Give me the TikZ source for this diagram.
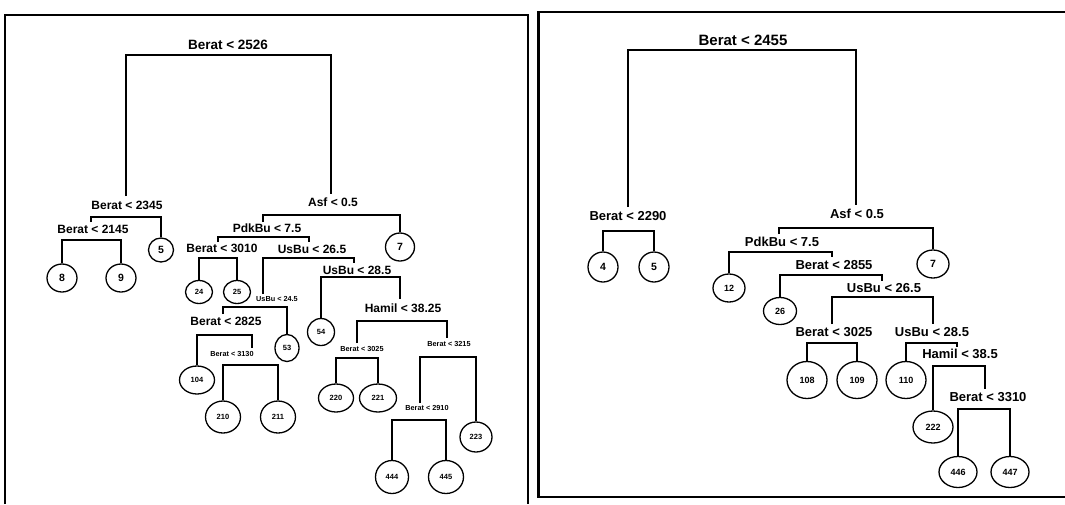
\documentclass[tikz,border=0pt]{standalone}
\usepackage{fontspec}
\setmainfont{Liberation Sans}
\usetikzlibrary{shapes.geometric}
\begin{document}
\begin{tikzpicture}[x=1pt,y=-1pt,
  lbl/.style={inner sep=0pt, font=\bfseries\fontsize{12}{14}\selectfont},
  lblbig/.style={inner sep=0pt, font=\bfseries\fontsize{13.5}{15}\selectfont},
  lblr/.style={inner sep=0pt, font=\bfseries\fontsize{13}{15}\selectfont},
  lblrbig/.style={inner sep=0pt, font=\bfseries\fontsize{15}{17}\selectfont},
  lbls/.style={inner sep=0pt, font=\bfseries\fontsize{7.3}{8}\selectfont},
  leaf/.style 2 args={draw, ellipse, line width=1.3pt, inner sep=0pt,
     minimum width=#1 pt, minimum height=#2 pt, font=\bfseries\fontsize{7.5}{8}\selectfont},
  big/.style={font=\bfseries\fontsize{10.5}{11}\selectfont},
  mid/.style={font=\bfseries\fontsize{9}{10}\selectfont},
  edge/.style={line width=1.2pt},
  frame/.style={line width=2.5pt}]
\useasboundingbox (0,0) rectangle (1065,504);
% frames
\coordinate (fa) at (5,504);
\coordinate (fb) at (5,15);
\coordinate (fc) at (528,15);
\coordinate (fd) at (528,504);
\draw[frame] (fa) -- (fb) -- (fc) -- (fd);
\coordinate (ga) at (1065,12);
\coordinate (gb) at (538.5,12);
\coordinate (gc) at (538.5,497);
\coordinate (gd) at (1065,497);
\draw[frame] (ga) -- (gb) -- (gc) -- (gd);

% ================= LEFT TREE =================
\node[lblbig] (L1) at (228,45) {Berat < 2526};
\coordinate (b1) at (228,55);
\coordinate (t2) at (126,196);
\coordinate (t3) at (331,194);
\draw[edge] (t2) |- (b1) -| (t3);

\node[lbl] (L2) at (127,205) {Berat < 2345};
\coordinate (b2) at (127,217);
\coordinate (t4) at (91,222);
\node[leaf={25}{24}, big] (l5) at (161,250) {5};
\draw[edge] (t4) |- (b2) -| (l5.north);

\node[lbl] (L4) at (93,229) {Berat < 2145};
\coordinate (b4) at (93,240);
\node[leaf={30}{28}, big] (l8) at (62,278) {8};
\node[leaf={30}{28}, big] (l9) at (121,278) {9};
\draw[edge] (l8.north) |- (b4) -| (l9.north);

\node[lbl] (L3) at (333,202) {Asf < 0.5};
\coordinate (b3) at (333,215);
\coordinate (t6) at (263,222);
\node[leaf={29}{28}, big] (l7) at (400,247) {7};
\draw[edge] (t6) |- (b3) -| (l7.north);

\node[lbl] (L6) at (267,228) {PdkBu < 7.5};
\coordinate (b6) at (267,237);
\coordinate (t12) at (218,242);
\coordinate (t13) at (309,242);
\draw[edge] (t12) |- (b6) -| (t13);

\node[lbl] (L12) at (222,248) {Berat < 3010};
\coordinate (b12) at (222,258);
\node[leaf={27}{23}] (l24) at (199,292) {24};
\node[leaf={27}{23}] (l25) at (237,292) {25};
\draw[edge] (l24.north) |- (b12) -| (l25.north);

\node[lbl] (L13) at (312,249) {UsBu < 26.5};
\coordinate (b13) at (312,258);
\coordinate (t26) at (263,294);
\coordinate (t27) at (354,263);
\draw[edge] (t26) |- (b13) -| (t27);

\node[lbls] (L26) at (277,299) {UsBu < 24.5};
\coordinate (b26) at (255,307);
\coordinate (t52) at (223,314);
\node[leaf={24}{27}] (l53) at (287,348) {53};
\draw[edge] (t52) |- (b26) -| (l53.north);

\node[lbl] (L52) at (226,321) {Berat < 2825};
\coordinate (b52) at (226,335);
\node[leaf={35}{28}] (l104) at (197,380) {104};
\coordinate (t105) at (252,348);
\draw[edge] (l104.north) |- (b52) -| (t105);

\node[lbls] (L105) at (232,354) {Berat < 3130};
\coordinate (b105) at (250,365);
\node[leaf={35}{32}] (l210) at (223,417) {210};
\node[leaf={35}{32}] (l211) at (278,417) {211};
\draw[edge] (l210.north) |- (b105) -| (l211.north);

\node[lbl] (L27) at (357,270) {UsBu < 28.5};
\coordinate (b27) at (360,277);
\node[leaf={27}{27}] (l54) at (321,332) {54};
\coordinate (t55) at (400,299);
\draw[edge] (l54.north) |- (b27) -| (t55);

\node[lbl] (L55) at (403,308) {Hamil < 38.25};
\coordinate (b55) at (403,321);
\coordinate (t110) at (357,343);
\coordinate (t111) at (447,338);
\draw[edge] (t110) |- (b55) -| (t111);

\node[lbls] (L110) at (362,349) {Berat < 3025};
\coordinate (b110) at (357,358);
\node[leaf={35}{28}] (l220) at (336,398) {220};
\node[leaf={37}{28}] (l221) at (378,398) {221};
\draw[edge] (l220.north) |- (b110) -| (l221.north);

\node[lbls] (L111) at (449,344) {Berat < 3215};
\coordinate (b111) at (447,357);
\coordinate (t222) at (420,403);
\node[leaf={32}{30}] (l223) at (476,437) {223};
\draw[edge] (t222) |- (b111) -| (l223.north);

\node[lbls] (L222) at (427,408) {Berat < 2910};
\coordinate (b222) at (420,420);
\node[leaf={33}{33}] (l444) at (392,477) {444};
\node[leaf={35}{33}] (l445) at (446,477) {445};
\draw[edge] (l444.north) |- (b222) -| (l445.north);

% ================= RIGHT TREE =================
\node[lblrbig] (R1) at (743,40) {Berat < 2455};
\coordinate (c1) at (743,50);
\coordinate (s2) at (628,207);
\coordinate (s3) at (856,205);
\draw[edge] (s2) |- (c1) -| (s3);

\node[lblr] (R2) at (628,216) {Berat < 2290};
\coordinate (c2) at (628,231);
\node[leaf={30}{30}, big] (r4) at (603,267) {4};
\node[leaf={30}{30}, big] (r5) at (654,267) {5};
\draw[edge] (r4.north) |- (c2) -| (r5.north);

\node[lblr] (R3) at (857,214) {Asf < 0.5};
\coordinate (c3) at (857,228);
\coordinate (s6) at (779,234);
\node[leaf={32}{28}, big] (r7) at (933,264) {7};
\draw[edge] (s6) |- (c3) -| (r7.north);

\node[lblr] (R6) at (782,242) {PdkBu < 7.5};
\coordinate (c6) at (782,252);
\node[leaf={32}{28}, mid] (r12) at (729,288) {12};
\coordinate (s13) at (832,257);
\draw[edge] (r12.north) |- (c6) -| (s13);

\node[lblr] (R13) at (834,265) {Berat < 2855};
\coordinate (c13) at (834,275);
\node[leaf={33}{27}, mid] (r26) at (780,311) {26};
\coordinate (s27) at (882,281);
\draw[edge] (r26.north) |- (c13) -| (s27);

\node[lblr] (R27) at (884,288) {UsBu < 26.5};
\coordinate (c27) at (884,297);
\coordinate (s54) at (832,324);
\coordinate (s55) at (933,324);
\draw[edge] (s54) |- (c27) -| (s55);

\node[lblr] (R54) at (834,332) {Berat < 3025};
\coordinate (c54) at (834,343);
\node[leaf={40}{37}, mid] (r108) at (807,380) {108};
\node[leaf={40}{37}, mid] (r109) at (857,380) {109};
\draw[edge] (r108.north) |- (c54) -| (r109.north);

\node[lblr] (R55) at (932,332) {UsBu < 28.5};
\coordinate (c55) at (932,343);
\node[leaf={40}{37}, mid] (r110) at (906,380) {110};
\coordinate (s111) at (957,347);
\draw[edge] (r110.north) |- (c55) -| (s111);

\node[lblr] (R111) at (960,354) {Hamil < 38.5};
\coordinate (c111) at (960,366);
\node[leaf={40}{32}, mid] (r222) at (933,427) {222};
\coordinate (s223) at (985,389);
\draw[edge] (r222.north) |- (c111) -| (s223);

\node[lblr] (R223) at (988,397) {Berat < 3310};
\coordinate (c223) at (988,409);
\node[leaf={38}{31}, mid] (r446) at (958,472) {446};
\node[leaf={38}{31}, mid] (r447) at (1010,472) {447};
\draw[edge] (r446.north) |- (c223) -| (r447.north);
\end{tikzpicture}
\end{document}
